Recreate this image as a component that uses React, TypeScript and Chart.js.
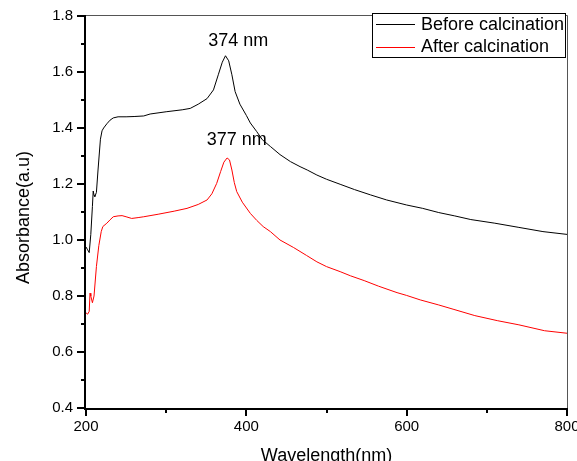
import React, { useEffect, useRef } from "react";
import { Chart, registerables } from "chart.js";

Chart.register(...registerables);

// ---- data ----
const beforeX = [200, 202, 204, 206, 208, 209, 210, 211, 213, 215, 218, 220, 222, 226, 230, 234, 240, 250, 260, 272, 280, 300, 320, 330, 340, 351, 359, 365, 370, 374, 378, 382, 386, 392, 400, 405, 413, 420, 430, 442, 455, 467, 476, 488, 500, 517, 535, 555, 575, 600, 620, 640, 660, 680, 710, 740, 770, 800];
const beforeY = [0.975, 0.965, 0.955, 1.02, 1.12, 1.175, 1.16, 1.155, 1.17, 1.25, 1.36, 1.39, 1.4, 1.415, 1.428, 1.436, 1.44, 1.44, 1.441, 1.443, 1.45, 1.458, 1.465, 1.47, 1.485, 1.505, 1.536, 1.59, 1.635, 1.658, 1.64, 1.59, 1.53, 1.485, 1.445, 1.418, 1.387, 1.358, 1.334, 1.305, 1.28, 1.262, 1.25, 1.232, 1.217, 1.199, 1.18, 1.161, 1.143, 1.125, 1.113, 1.098, 1.086, 1.073, 1.06, 1.045, 1.03, 1.02];

const afterX = [200, 202, 204, 205, 206, 208, 210, 213, 216, 219, 221, 226, 230, 234, 240, 245, 250, 257, 265, 272, 290, 310, 326, 340, 351, 357, 363, 368, 372, 376, 379, 382, 385, 388, 395, 405, 413, 421, 430, 442, 459, 475, 488, 500, 517, 530, 547, 565, 588, 600, 617, 640, 659, 685, 713, 740, 772, 800];
const afterY = [0.74, 0.735, 0.745, 0.81, 0.8, 0.776, 0.8, 0.905, 0.98, 1.03, 1.048, 1.06, 1.072, 1.083, 1.086, 1.087, 1.083, 1.077, 1.08, 1.083, 1.092, 1.103, 1.113, 1.127, 1.143, 1.165, 1.202, 1.245, 1.278, 1.293, 1.286, 1.25, 1.205, 1.173, 1.135, 1.095, 1.07, 1.048, 1.03, 1.0, 0.973, 0.945, 0.922, 0.905, 0.887, 0.872, 0.855, 0.835, 0.812, 0.802, 0.786, 0.768, 0.752, 0.73, 0.712, 0.697, 0.676, 0.667];

const seriesNames = ["Before calcination", "After calcination"];
const seriesColors = ["#000000", "#ff0000"];

const xTickValues = [200, 300, 400, 500, 600, 700, 800];
const yTickValues = [0.4, 0.5, 0.6, 0.7, 0.8, 0.9, 1.0, 1.1, 1.2, 1.3, 1.4, 1.5, 1.6, 1.7, 1.8];

const peakLabels = ["374 nm", "377 nm"];
const peakLabelX = [390, 388];
const peakLabelY = [1.693, 1.339];

const xTitle = "Wavelength(nm)";
const yTitle = "Absorbance(a.u)";

const FONT = "'Liberation Sans', Arial, sans-serif";

const decorPlugin = {
  id: "decor",
  afterDraw(chart: any) {
    const ctx = chart.ctx;
    const { left, right, top, bottom } = chart.chartArea;
    const xs = chart.scales.x;
    const ys = chart.scales.y;
    ctx.save();

    // frame top & right
    ctx.strokeStyle = "#555555";
    ctx.lineWidth = 1;
    ctx.beginPath();
    ctx.moveTo(left, top - 0.5);
    ctx.lineTo(right + 0.5, top - 0.5);
    ctx.lineTo(right + 0.5, bottom);
    ctx.stroke();

    // axes
    ctx.strokeStyle = "#000000";
    ctx.lineWidth = 2;
    ctx.beginPath();
    ctx.moveTo(left - 1, top - 1);
    ctx.lineTo(left - 1, bottom + 1);
    ctx.lineTo(right + 1, bottom + 1);
    ctx.stroke();

    // tick marks
    ctx.lineWidth = 2;
    xTickValues.forEach((v) => {
      const px = Math.round(xs.getPixelForValue(v));
      const major = v % 200 === 0;
      ctx.beginPath();
      ctx.moveTo(px, bottom + 1);
      ctx.lineTo(px, bottom + (major ? 8 : 5));
      ctx.stroke();
    });
    yTickValues.forEach((v) => {
      const py = Math.round(ys.getPixelForValue(v));
      const major = Math.round(v * 10) % 2 === 0;
      ctx.beginPath();
      ctx.moveTo(left - 1, py);
      ctx.lineTo(left - (major ? 9 : 5), py);
      ctx.stroke();
    });

    // peak labels
    ctx.fillStyle = "#000000";
    ctx.font = `18px ${FONT}`;
    ctx.textAlign = "center";
    ctx.textBaseline = "alphabetic";
    peakLabels.forEach((t, i) => {
      ctx.fillText(t, xs.getPixelForValue(peakLabelX[i]), ys.getPixelForValue(peakLabelY[i]));
    });

    // axis titles
    ctx.fillText(xTitle, (left + right) / 2, 461);
    ctx.save();
    ctx.translate(28.5, 217.5);
    ctx.rotate(-Math.PI / 2);
    ctx.fillText(yTitle, 0, 0);
    ctx.restore();

    // legend
    const lx = 372, ly = 13, lw = 193, lh = 44;
    ctx.fillStyle = "#ffffff";
    ctx.fillRect(lx, ly, lw, lh);
    ctx.strokeStyle = "#000000";
    ctx.lineWidth = 1;
    ctx.strokeRect(lx + 0.5, ly + 0.5, lw, lh);
    ctx.textAlign = "left";
    ctx.textBaseline = "middle";
    seriesNames.forEach((name, i) => {
      const yy = 24 + i * 22.5;
      ctx.strokeStyle = seriesColors[i];
      ctx.lineWidth = 1;
      ctx.beginPath();
      ctx.moveTo(376, Math.round(yy) + 0.5);
      ctx.lineTo(415, Math.round(yy) + 0.5);
      ctx.stroke();
      ctx.fillStyle = "#000000";
      ctx.fillText(name, 421, yy + 1);
    });

    ctx.restore();
  },
};

export default function App() {
  const ref = useRef<HTMLCanvasElement | null>(null);
  useEffect(() => {
    if (!ref.current) return;
    const chart = new Chart(ref.current, {
      type: "line",
      data: {
        datasets: [
          {
            label: seriesNames[0],
            data: beforeX.map((x, i) => ({ x, y: beforeY[i] })),
            borderColor: seriesColors[0],
            borderWidth: 1,
            pointRadius: 0,
            tension: 0,
            fill: false,
          },
          {
            label: seriesNames[1],
            data: afterX.map((x, i) => ({ x, y: afterY[i] })),
            borderColor: seriesColors[1],
            borderWidth: 1,
            pointRadius: 0,
            tension: 0,
            fill: false,
          },
        ],
      },
      options: {
        animation: false,
        responsive: false,
        devicePixelRatio: 1,
        layout: { padding: { top: 16, right: 10, left: 0, bottom: 0 } },
        plugins: {
          legend: { display: false },
          tooltip: { enabled: false },
          title: { display: false },
        },
        scales: {
          x: {
            type: "linear",
            min: 200,
            max: 800,
            border: { display: false },
            grid: { display: false, drawTicks: false },
            ticks: {
              stepSize: 100,
              autoSkip: false,
              maxRotation: 0,
              padding: 10,
              color: "#000000",
              font: { family: FONT, size: 15 },
              callback: (v: any) => (Number(v) % 200 === 0 ? String(v) : ""),
            },
            afterFit: (s: any) => {
              s.height = 53;
              s.paddingLeft = 0;
              s.paddingRight = 0;
            },
          },
          y: {
            type: "linear",
            min: 0.4,
            max: 1.8,
            border: { display: false },
            grid: { display: false, drawTicks: false },
            ticks: {
              stepSize: 0.1,
              autoSkip: false,
              padding: 13,
              color: "#000000",
              font: { family: FONT, size: 15 },
              callback: (v: any) => (Math.round(Number(v) * 10) % 2 === 0 ? Number(v).toFixed(1) : ""),
            },
            afterFit: (s: any) => {
              s.width = 86;
              s.paddingTop = 0;
              s.paddingBottom = 0;
            },
          },
        },
      },
      plugins: [decorPlugin],
    });
    return () => chart.destroy();
  }, []);
  return (
    <div style={{ position: "fixed", left: 0, top: 0, width: 577, height: 461, background: "#ffffff" }}>
      <canvas ref={ref} width={577} height={461} style={{ display: "block" }} />
    </div>
  );
}
